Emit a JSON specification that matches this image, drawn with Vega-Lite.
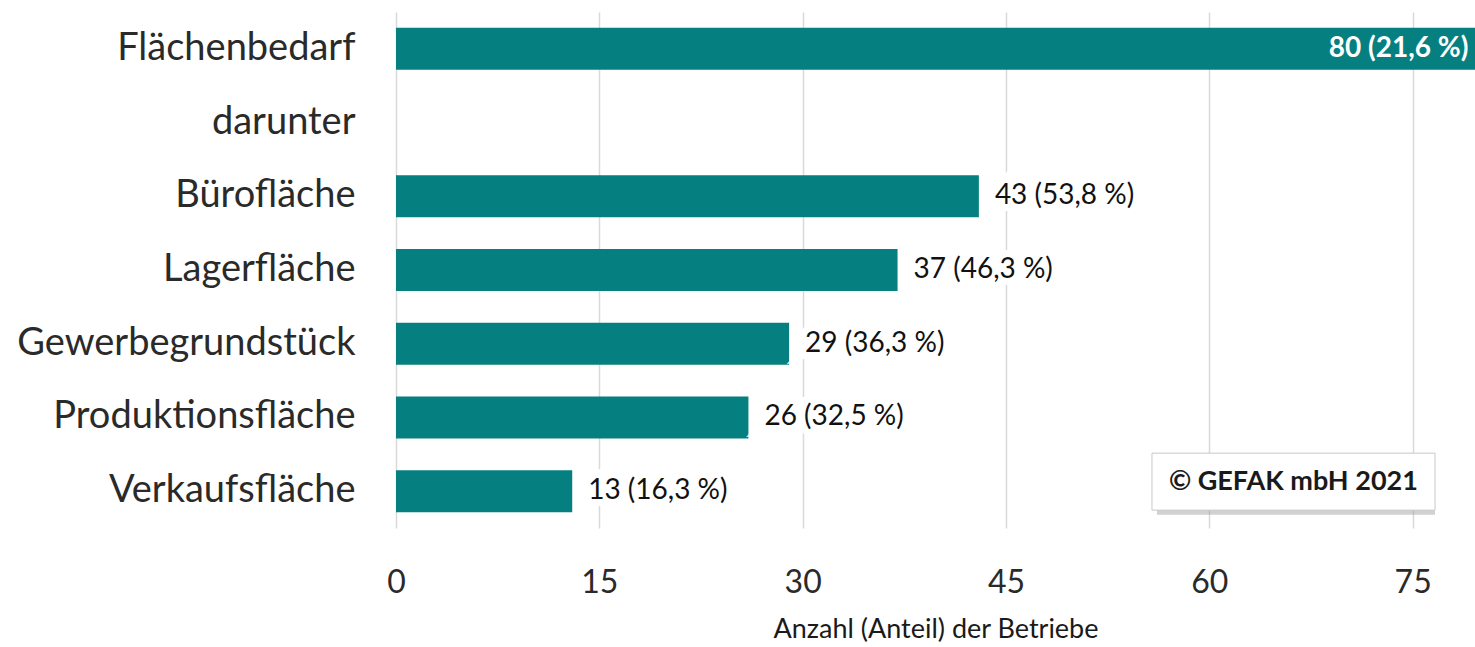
{
  "$schema": "https://vega.github.io/schema/vega-lite/v6.json",
  "width": 1079,
  "height": 516,
  "autosize": {"type": "none"},
  "padding": {"left": 396, "top": 12, "right": 0, "bottom": 119},
  "background": "white",
  "config": {
    "view": {"stroke": null},
    "font": "Lato"
  },
  "data": {
    "values": [
      {"cat": "Flächenbedarf", "value": 80, "label": "80 (21,6 %)"},
      {"cat": "darunter", "value": null, "label": ""},
      {"cat": "Bürofläche", "value": 43, "label": "43 (53,8 %)"},
      {"cat": "Lagerfläche", "value": 37, "label": "37 (46,3 %)"},
      {"cat": "Gewerbegrundstück", "value": 29, "label": "29 (36,3 %)"},
      {"cat": "Produktionsfläche", "value": 26, "label": "26 (32,5 %)"},
      {"cat": "Verkaufsfläche", "value": 13, "label": "13 (16,3 %)"}
    ]
  },
  "encoding": {
    "y": {
      "field": "cat",
      "type": "nominal",
      "sort": null,
      "scale": {
        "domain": ["Flächenbedarf", "darunter", "Bürofläche", "Lagerfläche", "Gewerbegrundstück", "Produktionsfläche", "Verkaufsfläche"],
        "paddingInner": 0,
        "paddingOuter": 0
      },
      "axis": {
        "title": null,
        "ticks": false,
        "domain": false,
        "labelFontSize": 38,
        "labelColor": "#2a2a2a",
        "labelPadding": 41,
        "labelFont": "Lato",
        "labelLimit": 400
      }
    }
  },
  "layer": [
    {
      "mark": {"type": "bar", "color": "#057f7f", "height": {"band": 0.57}},
      "transform": [{"filter": "datum.value != null"}],
      "encoding": {
        "x": {
          "field": "value",
          "type": "quantitative",
          "scale": {"domain": [0, 79.6], "nice": false, "zero": true},
          "axis": {
            "values": [0, 15, 30, 45, 60, 75],
            "title": "Anzahl (Anteil) der Betriebe",
            "titleFontSize": 27,
            "titleFontWeight": "normal",
            "titleColor": "#1a1a1a",
            "titlePadding": 18,
            "titleFont": "Lato",
            "labelFontSize": 32,
            "labelColor": "#2a2a2a",
            "labelPadding": 39,
            "labelFont": "Lato",
            "ticks": false,
            "domain": false,
            "grid": true,
            "gridColor": "#d9d9d9",
            "gridWidth": 1.5,
            "labelFlush": false
          }
        }
      }
    },
    {
      "transform": [{"filter": "datum.value != null && datum.value < 70"}],
      "mark": {"type": "text", "align": "left", "baseline": "middle", "dx": 16, "fontSize": 28, "stroke": "white", "strokeWidth": 14, "fill": "white", "strokeJoin": "miter"},
      "encoding": {
        "x": {"field": "value", "type": "quantitative"},
        "text": {"field": "label"}
      }
    },
    {
      "transform": [{"filter": "datum.value != null && datum.value < 70"}],
      "mark": {"type": "text", "align": "left", "baseline": "middle", "dx": 16, "fontSize": 28, "color": "#111111"},
      "encoding": {
        "x": {"field": "value", "type": "quantitative"},
        "text": {"field": "label"}
      }
    },
    {
      "transform": [{"filter": "datum.value >= 70"}],
      "mark": {"type": "text", "align": "right", "baseline": "middle", "dx": -12, "fontSize": 28, "fontWeight": "bold", "color": "white"},
      "encoding": {
        "x": {"field": "value", "type": "quantitative"},
        "text": {"field": "label"}
      }
    },
    {
      "data": {"values": [{"note": "© GEFAK mbH 2021"}]},
      "mark": {"type": "rect", "fill": "#9a9a9a", "opacity": 0.45, "height": {"band": 0.773}, "xOffset": 5, "yOffset": -5},
      "encoding": {
        "x": {"datum": 55.77, "type": "quantitative"},
        "x2": {"datum": 76.65},
        "y": {"datum": "Verkaufsfläche", "type": "nominal"}
      }
    },
    {
      "data": {"values": [{"note": "© GEFAK mbH 2021"}]},
      "mark": {"type": "rect", "fill": "white", "stroke": "#c8c8c8", "strokeWidth": 1, "height": {"band": 0.773}, "yOffset": -9.5},
      "encoding": {
        "x": {"datum": 55.77, "type": "quantitative"},
        "x2": {"datum": 76.65},
        "y": {"datum": "Verkaufsfläche", "type": "nominal"}
      }
    },
    {
      "data": {"values": [{"note": "© GEFAK mbH 2021"}]},
      "mark": {"type": "text", "align": "center", "baseline": "middle", "fontSize": 27, "fontWeight": "bold", "color": "#1a1a1a", "yOffset": -9.5},
      "encoding": {
        "x": {"datum": 66.2, "type": "quantitative"},
        "y": {"datum": "Verkaufsfläche", "type": "nominal"},
        "text": {"field": "note"}
      }
    }
  ]
}
